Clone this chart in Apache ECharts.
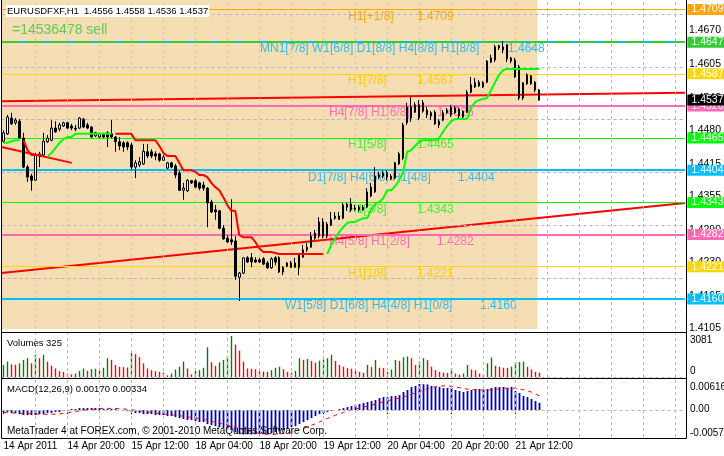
<!DOCTYPE html>
<html><head><meta charset="utf-8">
<script src="https://cdn.jsdelivr.net/npm/echarts@6/dist/echarts.min.js"></script>
<style>html,body{margin:0;padding:0;background:#fff}#c{width:724px;height:456px}</style>
</head><body><div id="c"></div>
<script>
const _ = null;
const symbolName = 'EURUSDFXF,H1';
const eaComment = '=14536478 sell';
const footerText = 'MetaTrader 4 at FOREX.com, \u00a9 2001-2010 MetaQuotes Software Corp.';
const totalSlots = 171;
const shadedUntilBar = 133.65;

// [open, close, low, high]
const ohlc = [
[1.4459,1.4475,1.4456,1.4480],[1.4473,1.4505,1.4471,1.4509],[1.4503,1.4492,1.4490,1.4513],[1.4494,1.4499,1.4490,1.4503],
[1.4497,1.4465,1.4463,1.4501],[1.4465,1.4410,1.4408,1.4475],[1.4410,1.4391,1.4382,1.4414],[1.4393,1.4385,1.4365,1.4397],
[1.4385,1.4433,1.4384,1.4437],[1.4431,1.4435,1.4410,1.4439],[1.4433,1.4459,1.4429,1.4475],[1.4458,1.4465,1.4456,1.4471],
[1.4461,1.4484,1.4459,1.4499],[1.4484,1.4477,1.4475,1.4497],[1.4482,1.4490,1.4478,1.4494],[1.4488,1.4494,1.4486,1.4496],
[1.4494,1.4484,1.4482,1.4496],[1.4488,1.4484,1.4480,1.4492],[1.4484,1.4482,1.4478,1.4490],[1.4484,1.4503,1.4482,1.4505],
[1.4501,1.4486,1.4484,1.4503],[1.4490,1.4484,1.4482,1.4494],[1.4486,1.4467,1.4465,1.4488],[1.4469,1.4475,1.4467,1.4477],
[1.4467,1.4473,1.4465,1.4475],[1.4473,1.4467,1.4465,1.4475],[1.4475,1.4467,1.4448,1.4478],[1.4473,1.4467,1.4465,1.4499],
[1.4467,1.4458,1.4439,1.4469],[1.4458,1.4450,1.4442,1.4467],[1.4456,1.4448,1.4439,1.4459],[1.4456,1.4448,1.4442,1.4459],
[1.4452,1.4410,1.4404,1.4456],[1.4410,1.4418,1.4389,1.4423],[1.4414,1.4420,1.4410,1.4429],[1.4416,1.4440,1.4414,1.4454],
[1.4439,1.4431,1.4427,1.4454],[1.4439,1.4431,1.4427,1.4444],[1.4435,1.4431,1.4423,1.4440],[1.4435,1.4423,1.4420,1.4437],
[1.4423,1.4429,1.4422,1.4433],[1.4408,1.4418,1.4406,1.4420],[1.4418,1.4410,1.4408,1.4420],[1.4412,1.4395,1.4389,1.4416],
[1.4399,1.4366,1.4365,1.4403],[1.4366,1.4370,1.4348,1.4380],[1.4365,1.4385,1.4363,1.4387],[1.4384,1.4380,1.4378,1.4385],
[1.4384,1.4372,1.4370,1.4387],[1.4380,1.4370,1.4366,1.4382],[1.4376,1.4370,1.4365,1.4382],[1.4370,1.4342,1.4296,1.4372],
[1.4344,1.4325,1.4323,1.4348],[1.4329,1.4325,1.4310,1.4338],[1.4327,1.4294,1.4292,1.4329],[1.4294,1.4274,1.4272,1.4300],
[1.4275,1.4268,1.4266,1.4281],[1.4272,1.4268,1.4262,1.4349],[1.4270,1.4203,1.4196,1.4279],[1.4201,1.4209,1.4156,1.4211],
[1.4209,1.4238,1.4207,1.4239],[1.4238,1.4230,1.4228,1.4241],[1.4238,1.4230,1.4220,1.4247],[1.4234,1.4230,1.4228,1.4239],
[1.4234,1.4230,1.4228,1.4238],[1.4236,1.4226,1.4224,1.4239],[1.4228,1.4219,1.4217,1.4232],[1.4219,1.4236,1.4217,1.4239],
[1.4238,1.4230,1.4224,1.4241],[1.4238,1.4211,1.4209,1.4241],[1.4211,1.4220,1.4205,1.4222],[1.4228,1.4222,1.4220,1.4230],
[1.4228,1.4220,1.4219,1.4232],[1.4228,1.4220,1.4219,1.4238],[1.4219,1.4243,1.4205,1.4244],[1.4239,1.4253,1.4238,1.4262],
[1.4253,1.4258,1.4249,1.4266],[1.4258,1.4279,1.4257,1.4287],[1.4275,1.4285,1.4272,1.4291],[1.4279,1.4306,1.4275,1.4315],
[1.4306,1.4279,1.4275,1.4313],[1.4279,1.4302,1.4275,1.4306],[1.4300,1.4311,1.4298,1.4325],[1.4313,1.4317,1.4310,1.4325],
[1.4317,1.4311,1.4310,1.4325],[1.4313,1.4338,1.4311,1.4342],[1.4334,1.4340,1.4327,1.4342],[1.4340,1.4329,1.4325,1.4351],
[1.4332,1.4330,1.4327,1.4338],[1.4334,1.4329,1.4325,1.4338],[1.4334,1.4329,1.4327,1.4338],[1.4334,1.4363,1.4332,1.4370],
[1.4355,1.4372,1.4353,1.4380],[1.4363,1.4393,1.4361,1.4410],[1.4391,1.4395,1.4387,1.4401],[1.4399,1.4393,1.4389,1.4403],
[1.4399,1.4391,1.4385,1.4404],[1.4393,1.4387,1.4385,1.4397],[1.4389,1.4418,1.4387,1.4420],[1.4416,1.4435,1.4414,1.4439],
[1.4427,1.4490,1.4423,1.4494],[1.4494,1.4524,1.4490,1.4532],[1.4503,1.4524,1.4496,1.4543],[1.4528,1.4514,1.4513,1.4533],
[1.4528,1.4503,1.4499,1.4537],[1.4516,1.4532,1.4513,1.4537],[1.4518,1.4509,1.4503,1.4524],[1.4513,1.4507,1.4499,1.4516],
[1.4514,1.4492,1.4490,1.4518],[1.4490,1.4497,1.4484,1.4501],[1.4499,1.4513,1.4497,1.4518],[1.4513,1.4518,1.4511,1.4522],
[1.4509,1.4524,1.4505,1.4528],[1.4522,1.4513,1.4511,1.4526],[1.4520,1.4507,1.4503,1.4522],[1.4516,1.4505,1.4503,1.4518],
[1.4514,1.4552,1.4513,1.4556],[1.4552,1.4566,1.4550,1.4581],[1.4562,1.4571,1.4560,1.4579],[1.4571,1.4564,1.4562,1.4575],
[1.4570,1.4562,1.4560,1.4573],[1.4571,1.4611,1.4569,1.4613],[1.4609,1.4617,1.4607,1.4623],[1.4613,1.4638,1.4609,1.4642],
[1.4640,1.4636,1.4632,1.4642],[1.4632,1.4638,1.4626,1.4649],[1.4642,1.4615,1.4609,1.4643],[1.4617,1.4611,1.4607,1.4619],
[1.4613,1.4581,1.4579,1.4617],[1.4600,1.4541,1.4537,1.4604],[1.4541,1.4570,1.4537,1.4571],[1.4568,1.4585,1.4566,1.4588],
[1.4583,1.4568,1.4566,1.4585],[1.4571,1.4556,1.4552,1.4573],[1.4556,1.4537,1.4536,1.4558]
];

const volumes = [
898,1155,950,924,1027,1284,1412,1027,1669,1412,1669,1155,847,642,436,385,257,205,257,462,
642,462,590,616,462,693,1412,1284,898,770,744,719,1797,1720,1489,1027,642,513,436,385,
334,128,257,565,770,1155,642,205,462,513,693,2233,1104,821,1104,1284,1540,3081,2439,1977,
1155,642,616,590,436,411,385,513,693,770,590,385,334,462,1412,1284,1361,1206,1078,1232,
1309,1412,1669,1206,898,770,667,616,513,385,308,898,744,1284,693,667,385,565,1284,1206,
1489,1540,1412,898,1155,1412,1284,770,513,385,334,308,642,257,180,257,898,565,513,257,
231,1027,1463,847,770,693,667,770,1104,1129,1155,770,565,385,325
];

const macdMain = [
-0.00047,-0.00047,-0.00071,-0.00071,-0.00095,-0.00119,-0.00119,-0.00119,-0.00119,-0.00095,
-0.00095,-0.00071,-0.00071,-0.00047,-0.00047,-0.00024,0.00003,0.00024,0.00024,0.00047,
0.00047,0.00047,0.00047,0.00047,0.00047,0.00024,0.00024,0.00024,0.00024,0.00005,
-0.00005,-0.00024,-0.00047,-0.00071,-0.00071,-0.00095,-0.00095,-0.00095,-0.00119,-0.00119,
-0.00119,-0.00142,-0.00142,-0.00166,-0.00190,-0.00213,-0.00237,-0.00237,-0.00261,-0.00284,
-0.00284,-0.00332,-0.00356,-0.00379,-0.00403,-0.00427,-0.00450,-0.00474,-0.00521,-0.00569,
-0.00577,-0.00575,-0.00577,-0.00572,-0.00570,-0.00569,-0.00565,-0.00545,-0.00521,-0.00498,
-0.00474,-0.00450,-0.00403,-0.00379,-0.00332,-0.00284,-0.00237,-0.00190,-0.00142,-0.00095,
-0.00071,-0.00047,-0.00024,0.00003,0.00024,0.00047,0.00071,0.00095,0.00119,0.00142,
0.00166,0.00190,0.00213,0.00237,0.00284,0.00308,0.00308,0.00332,0.00332,0.00356,
0.00427,0.00474,0.00545,0.00569,0.00616,0.00612,0.00605,0.00569,0.00545,0.00545,
0.00521,0.00521,0.00521,0.00474,0.00450,0.00427,0.00450,0.00474,0.00498,0.00498,
0.00474,0.00498,0.00521,0.00545,0.00545,0.00545,0.00521,0.00545,0.00450,0.00403,
0.00332,0.00308,0.00261,0.00213,0.00170
];

const macdSignal = [
-0.00059,-0.00062,-0.00066,-0.00071,-0.00076,-0.00081,-0.00085,-0.00088,-0.00090,-0.00095,
-0.00100,-0.00100,-0.00100,-0.00095,-0.00088,-0.00076,-0.00064,-0.00047,-0.00033,-0.00019,
-0.00005,0.00007,0.00019,0.00028,0.00038,0.00040,0.00040,0.00040,0.00038,0.00031,
0.00026,0.00019,0.00007,-0.00005,-0.00017,-0.00028,-0.00043,-0.00055,-0.00069,-0.00081,
-0.00092,-0.00102,-0.00111,-0.00121,-0.00133,-0.00145,-0.00161,-0.00173,-0.00190,-0.00209,
-0.00223,-0.00244,-0.00265,-0.00287,-0.00308,-0.00329,-0.00353,-0.00377,-0.00403,-0.00434,
-0.00465,-0.00491,-0.00514,-0.00536,-0.00552,-0.00566,-0.00576,-0.00577,-0.00574,-0.00564,
-0.00550,-0.00536,-0.00514,-0.00491,-0.00465,-0.00431,-0.00398,-0.00360,-0.00322,-0.00280,
-0.00237,-0.00197,-0.00159,-0.00121,-0.00088,-0.00055,-0.00026,0.00000,0.00024,0.00047,
0.00071,0.00095,0.00119,0.00142,0.00168,0.00194,0.00218,0.00242,0.00263,0.00284,
0.00310,0.00339,0.00374,0.00405,0.00441,0.00474,0.00505,0.00531,0.00552,0.00566,
0.00571,0.00569,0.00564,0.00547,0.00529,0.00507,0.00495,0.00488,0.00481,0.00479,
0.00474,0.00472,0.00476,0.00488,0.00500,0.00512,0.00517,0.00521,0.00514,0.00500,
0.00480,0.00455,0.00423,0.00382,0.00334
];

const trailGreen = [
1.4456,1.4456,1.4459,1.4461,1.4461,_,_,_,_,_,
_,1.4429,1.4437,1.4446,1.4456,1.4463,1.4467,1.4467,1.4473,1.4473,
1.4473,1.4473,1.4473,1.4473,1.4473,1.4473,1.4473,1.4473,_,_,
_,_,_,_,_,_,_,_,_,_,
_,_,_,_,_,_,_,_,_,_,
_,_,_,_,_,_,_,_,_,_,
_,_,_,_,_,_,_,_,_,_,
_,_,_,_,_,_,_,_,_,_,
_,1.4245,1.4262,1.4275,1.4287,1.4296,1.4304,1.4306,1.4306,1.4310,
1.4313,1.4313,1.4329,1.4340,1.4344,1.4351,1.4366,1.4366,1.4374,1.4385,
1.4401,1.4439,1.4442,1.4450,1.4458,1.4461,1.4461,1.4461,1.4461,1.4465,
1.4477,1.4488,1.4497,1.4501,1.4501,1.4501,1.4501,1.4522,1.4533,1.4537,
1.4539,1.4541,1.4556,1.4571,1.4585,1.4594,1.4596,1.4596,1.4596,1.4596,
1.4596,1.4596,1.4596,1.4596,1.4596
];

const trailRed = [
_,_,_,_,_,1.4461,1.4442,1.4433,1.4433,1.4433,
1.4431,_,_,_,_,_,_,_,_,_,
_,_,_,_,_,_,_,_,1.4473,1.4473,
1.4473,1.4473,1.4473,1.4461,1.4461,1.4461,1.4461,1.4461,1.4461,1.4450,
1.4437,1.4431,1.4431,1.4431,1.4418,1.4404,1.4404,1.4404,1.4401,1.4395,
1.4395,1.4391,1.4380,1.4372,1.4366,1.4353,1.4338,1.4327,1.4327,1.4281,
1.4277,1.4277,1.4277,1.4268,1.4256,1.4249,1.4249,1.4249,1.4247,1.4245,
1.4245,1.4245,1.4245,1.4245,1.4245,1.4245,1.4245,1.4245,1.4245,1.4245,
1.4245,_,_,_,_,_,_,_,_,_,
_,_,_,_,_,_,_,_,_,_,
_,_,_,_,_,_,_,_,_,_,
_,_,_,_,_,_,_,_,_,_,
_,_,_,_,_,_,_,_,_,_,
_,_,_,_,_
];

const priceTicks = [1.4670,1.4605,1.4540,1.4480,1.4415,1.4355,1.4290,1.4230,1.4165,1.4105];
const volumeTicks = [3081,0];
const macdTicks = [0.00616,0.00,-0.00577];

const levelPrices = [1.4709,1.4648,1.4587,1.4526,1.4465,1.4404,1.4343,1.4282,1.4221,1.4160];
const levelNames = ['H1[+1/8]','MN1[7/8] W1[6/8] D1[8/8] H4[8/8] H1[8/8]','H1[7/8]','H4[7/8] H1[6/8]','H1[5/8]',
  'D1[7/8] H4[6/8] H1[4/8]','H1[3/8]','H4[5/8] H1[2/8]','H1[1/8]','W1[5/8] D1[6/8] H4[4/8] H1[0/8]'];
const dashedLevel = 1.4647;

const trendUpper = [[-0.5,1.4535],[170.5,1.4551]];
const trendLower = [[-0.5,1.4209],[170.5,1.4342]];
const trendShort = [[-0.5,1.4448],[17.1,1.4418]];

// ---------- styles ----------
const ORANGE='#FFA500', CYAN='#00BFFF', GOLD='#FFD700', PINK='#FF69B4', LIME='#00FF00', GREEN2='#32CD32';
const levelStyle = [
  {c:ORANGE,w:1,t:'#FFA500'},{c:CYAN,w:2,t:'#33BBEE'},{c:GOLD,w:1,t:'#FFCC00'},{c:PINK,w:2,t:'#FF6EB4'},{c:LIME,w:1,t:'#44EE33'},
  {c:CYAN,w:2,t:'#33BBEE'},{c:LIME,w:1,t:'#44EE33'},{c:PINK,w:2,t:'#FF6EB4'},{c:GOLD,w:1,t:'#FFCC00'},{c:CYAN,w:2,t:'#33BBEE'}
];
const levelTextX = [[348,417],[260,508],[348,417],[329,437],[348,417],[308,458],[348,417],[329,437],[348,417],[285,480]];
const boxFor = {1.4709:ORANGE,1.4587:GOLD,1.4526:PINK,1.4465:LIME,1.4404:CYAN,1.4343:LIME,1.4282:PINK,1.4221:GOLD,1.4160:CYAN};
const FONT = 'Liberation Sans';
const VOL_UP='#008000', VOL_DN='#FF0000';

function buildTimes(n){
  const out=[]; let t=Date.UTC(2011,3,14,4);
  while(out.length<n){ const d=new Date(t); const wd=d.getUTCDay(); if(wd!==0&&wd!==6) out.push(d); t+=3600000; }
  return out;
}
const MON=['Jan','Feb','Mar','Apr','May','Jun','Jul','Aug','Sep','Oct','Nov','Dec'];
const dates = buildTimes(totalSlots);
const times = dates.map(d=>d.getUTCFullYear()+'-'+(d.getUTCMonth()+1)+'-'+d.getUTCDate()+' '+String(d.getUTCHours()).padStart(2,'0')+':00');
function fmtTime(i){
  const d=dates[i]; const p=n=>String(n).padStart(2,'0');
  return i===0 ? d.getUTCDate()+' '+MON[d.getUTCMonth()]+' '+d.getUTCFullYear()
               : d.getUTCDate()+' '+MON[d.getUTCMonth()]+' '+p(d.getUTCHours())+':'+p(d.getUTCMinutes());
}
const nBars = ohlc.length;
const showTime = i => i%16===0 && i<nBars;

const GL=1.5, GW=684;
const mainMin=1.41029, mainMax=1.47269;
const grids=[
  {left:GL,width:GW,top:0,height:329},
  {left:GL,width:GW,top:333,height:44},
  {left:GL,width:GW,top:379,height:58}
];
const vIdx=[]; for(let i=8;i<totalSlots;i+=8) vIdx.push(i);
const vLines = (beigeAware)=> vIdx.map(i=>({xAxis:times[i],lineStyle:{color:(beigeAware&&i<shadedUntilBar)?'#C9D29E':'#B8B8B8',type:[3,3],width:1}}));

const levelMarks = [];
levelPrices.forEach((p,k)=>{
  const st=levelStyle[k];
  const box=boxFor[p];
  levelMarks.push({yAxis:p,lineStyle:{color:st.c,width:st.w,type:'solid'},
    label:box?{show:true,formatter:p.toFixed(4),backgroundColor:box}:{show:false}});
});
levelMarks.push({yAxis:dashedLevel,lineStyle:{color:GREEN2,width:2,type:[18,6]},label:{show:true,formatter:dashedLevel.toFixed(4),backgroundColor:GREEN2}});
const lastClose = ohlc[nBars-1][1];
levelMarks.push({yAxis:lastClose,lineStyle:{color:'rgba(0,0,0,0)',width:1,type:'solid'},label:{show:true,formatter:lastClose.toFixed(4),backgroundColor:'#000000',color:'#ffffff'}});

// MT4 "Volumes": bar is green when volume rose versus the previous bar, red otherwise
const volUp = volumes.map((v,i)=>(i===0||v>volumes[i-1])?v:null);
const volDn = volumes.map((v,i)=>(i===0||v>volumes[i-1])?null:v);

const chart = echarts.init(document.getElementById('c'));
const option = {
  animation:false,
  textStyle:{fontFamily:FONT},
  grid:grids,
  xAxis:[
    {type:'category',gridIndex:0,data:times,show:false},
    {type:'value',gridIndex:0,min:-0.5,max:totalSlots-0.5,show:false},
    {type:'category',gridIndex:1,data:times,show:false},
    {type:'category',gridIndex:2,data:times,offset:1.5,
      axisLine:{show:false},
      axisTick:{show:true,alignWithLabel:true,interval:(i)=>showTime(i),length:4,lineStyle:{color:'#000'}},
      axisLabel:{show:true,interval:(i)=>showTime(i),formatter:(v,i)=>fmtTime(i),align:'left',color:'#000',fontSize:10,margin:3},
      splitLine:{show:false}}
  ],
  yAxis:[
    {type:'value',gridIndex:0,min:mainMin,max:mainMax,position:'right',offset:1,
      axisLine:{show:false},splitLine:{show:false},
      axisTick:{show:true,customValues:priceTicks,length:3,lineStyle:{color:'#000'}},
      axisLabel:{show:true,customValues:priceTicks,formatter:v=>v.toFixed(4),color:'#000',fontSize:10.5,margin:3}},
    {type:'value',gridIndex:1,min:0,max:3306,show:false},
    {type:'value',gridIndex:2,min:-0.00636,max:0.00734,show:false}
  ],
  series:[
    {type:'line',xAxisIndex:1,yAxisIndex:0,data:[],z:0,silent:true,
      markArea:{silent:true,itemStyle:{color:'#F5DEB3'},data:[[{coord:[-1,mainMin]},{coord:[shadedUntilBar,mainMax]}]]}},
    {type:'line',xAxisIndex:0,yAxisIndex:0,data:[],z:1,silent:true,
      markLine:{silent:true,symbol:'none',label:{show:false},
        data:[...vLines(true),...priceTicks.map(p=>({yAxis:p,lineStyle:{color:'#B4B6C2',type:[3,3],width:1}}))]}},
    {type:'line',xAxisIndex:0,yAxisIndex:0,data:[],z:2,silent:true,
      markLine:{silent:true,symbol:'none',precision:4,
        label:{position:'end',distance:2.5,color:'#fff',fontSize:10.5,fontFamily:FONT,padding:[1,4,0,4],lineHeight:10},
        data:levelMarks}},
    ...[trendUpper,trendLower,trendShort].map(d=>({type:'line',xAxisIndex:1,yAxisIndex:0,data:d,z:3,symbol:'none',silent:true,
      lineStyle:{color:'#FF0000',width:2}})),
    {type:'candlestick',xAxisIndex:0,yAxisIndex:0,data:ohlc,z:5,barWidth:2,silent:true,
      itemStyle:{color:'#FFFFFF',color0:'#000000',borderColor:'#000000',borderColor0:'#000000',borderWidth:1}},
    {type:'line',xAxisIndex:0,yAxisIndex:0,data:trailRed,z:6,symbol:'none',silent:true,connectNulls:false,lineStyle:{color:'#FF0000',width:2}},
    {type:'line',xAxisIndex:0,yAxisIndex:0,data:trailGreen,z:6,symbol:'none',silent:true,connectNulls:false,lineStyle:{color:'#00FF00',width:2}},
    {type:'line',xAxisIndex:2,yAxisIndex:1,data:[],z:1,silent:true,
      markLine:{silent:true,symbol:'none',label:{show:false},data:[...vLines(false),{yAxis:0,lineStyle:{color:'#B8B8B8',type:[3,3],width:1}}]}},
    {name:'volUp',type:'bar',xAxisIndex:2,yAxisIndex:1,data:volUp,barWidth:1.4,barGap:'-100%',silent:true,z:3,
      itemStyle:{color:VOL_UP,borderWidth:0}},
    {name:'volDn',type:'bar',xAxisIndex:2,yAxisIndex:1,data:volDn,barWidth:1.4,barGap:'-100%',silent:true,z:3,
      itemStyle:{color:VOL_DN,borderWidth:0}},
    {type:'line',xAxisIndex:3,yAxisIndex:2,data:[],z:1,silent:true,
      markLine:{silent:true,symbol:'none',label:{show:false},data:[...vLines(false),{yAxis:0,lineStyle:{color:'#B8B8B8',type:[3,3],width:1}}]}},
    {type:'bar',xAxisIndex:3,yAxisIndex:2,data:macdMain,barWidth:1.8,silent:true,z:3,itemStyle:{color:'#0000C0'}},
    {type:'line',xAxisIndex:3,yAxisIndex:2,data:macdSignal,symbol:'none',silent:true,z:4,lineStyle:{color:'#FF0000',width:1,type:[4,4]}}
  ]
};
chart.setOption(option);

// ---------- texts & frames ----------
const gfx=[];
const txt=(text,x,y,o)=>gfx.push(Object.assign({type:'text',silent:true,z:3,
  style:Object.assign({text,x,y,fill:'#000',fontSize:9.5,fontFamily:FONT,verticalAlign:'middle',align:'left'},o&&o.style||{})},o&&o.el||{}));
levelPrices.forEach((p,k)=>{
  const y=chart.convertToPixel({yAxisIndex:0},p);
  txt(levelNames[k],levelTextX[k][0],y+7,{style:{fill:levelStyle[k].t,fontSize:12}});
  txt(p.toFixed(4),levelTextX[k][1],y+7,{style:{fill:levelStyle[k].t,fontSize:12}});
});
const last=ohlc[nBars-1];
txt(symbolName+'  '+[last[0],last[3],last[2],last[1]].map(v=>v.toFixed(4)).join(' '),6,11,
  {style:{backgroundColor:'#fff',padding:[1,1,1,1]},el:{z:50}});
txt(eaComment,12,30,{style:{fill:'#5CCB5C',fontSize:14}});
txt('Volumes '+volumes[nBars-1],7,343,{el:{z:50}});
txt('MACD(12,26,9) '+macdMain[nBars-1].toFixed(5)+' '+macdSignal[nBars-1].toFixed(5),7,389,{el:{z:50}});
txt(footerText,7,431,{style:{fontSize:10},el:{z:50}});
const vy=v=>chart.convertToPixel({yAxisIndex:1},v);
const my=v=>chart.convertToPixel({yAxisIndex:2},v);
txt(String(volumeTicks[0]),690,vy(volumeTicks[0])+4,{style:{fontSize:10}});
txt(String(volumeTicks[1]),690,vy(volumeTicks[1])-6,{style:{fontSize:10}});
txt(macdTicks[0].toFixed(5),690,my(macdTicks[0])+3,{style:{fontSize:10}});
txt(macdTicks[1].toFixed(2),690,my(macdTicks[1])-1,{style:{fontSize:10}});
txt(macdTicks[2].toFixed(5),690,my(macdTicks[2])-1.5,{style:{fontSize:10}});
const line=(x1,y1,x2,y2)=>gfx.push({type:'line',silent:true,z:60,shape:{x1,y1,x2,y2},style:{stroke:'#000',lineWidth:1}});
line(686.5,0,686.5,438.5);
line(1.5,0,1.5,438.5);
line(1.5,332.5,686.5,332.5);
line(1.5,378.5,686.5,378.5);
line(1.5,438.5,686.5,438.5);
chart.setOption({graphic:{elements:gfx}});
</script></body></html>
